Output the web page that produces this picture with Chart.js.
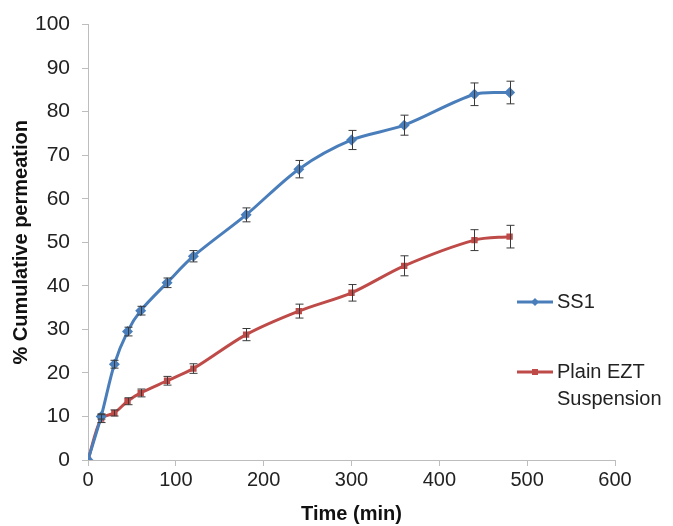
<!DOCTYPE html>
<html>
<head>
<meta charset="utf-8">
<script src="https://cdn.jsdelivr.net/npm/chart.js@4"></script>
<style>
    html, body { margin: 0; padding: 0; background: #fff; }
    #wrap { width: 673px; height: 526px; }
</style>
</head>
<body>
<div id="wrap"><canvas id="grafic" width="673" height="526"></canvas></div>
<script>
"use strict";

// values
const times = [0, 15, 30, 45, 60, 90, 120, 180, 240, 300, 360, 440, 480];
const ss1 = [0, 10, 22, 29.5, 34.3, 40.7, 46.8, 56.3, 66.8, 73.5, 76.9, 84, 84.4];
const ss1Err = [0, 0.6, 0.9, 1, 1, 1.1, 1.3, 1.6, 2, 2.2, 2.3, 2.6, 2.6];
const plain = [0, 9.5, 10.8, 13.5, 15.4, 18.2, 21, 28.8, 34.2, 38.4, 44.6, 50.5, 51.3];
const plainErr = [0, 0.9, 0.7, 0.8, 0.9, 1, 1.1, 1.4, 1.6, 1.9, 2.3, 2.4, 2.6];
const yTicks = [0, 10, 20, 30, 40, 50, 60, 70, 80, 90, 100];
const xTicks = [0, 100, 200, 300, 400, 500, 600];

const blue = '#4a7ebb';
const red = '#be4b48';
const font = 'Liberation Sans, Arial, sans-serif';

function points(ys) {
    return times.map(function (t, i) { return { x: t, y: ys[i] }; });
}

const errorBars = {
    id: 'errorBars',
    afterDatasetsDraw: function (chart) {
        let ctx = chart.ctx;
        let yScale = chart.scales.y;
        let errs = [ss1Err, plainErr];
        ctx.save();
        ctx.strokeStyle = '#3a3a3a';
        ctx.lineWidth = 1;
        chart.data.datasets.forEach(function (ds, d) {
            let meta = chart.getDatasetMeta(d);
            meta.data.forEach(function (pt, i) {
                let e = errs[d][i];
                if (!e) return;
                let v = ds.data[i].y;
                let x = Math.round(pt.x) + 0.5;
                let top = yScale.getPixelForValue(v + e);
                let bot = yScale.getPixelForValue(v - e);
                ctx.beginPath();
                ctx.moveTo(x, top); ctx.lineTo(x, bot);
                ctx.moveTo(x - 4, top); ctx.lineTo(x + 4, top);
                ctx.moveTo(x - 4, bot); ctx.lineTo(x + 4, bot);
                ctx.stroke();
            });
        });
        ctx.restore();
    }
};

const sideLegend = {
    id: 'sideLegend',
    afterDraw: function (chart) {
        let ctx = chart.ctx;
        let items = [
            { color: blue, shape: 'diamond', lines: ['SS1'], y: 302 },
            { color: red, shape: 'square', lines: ['Plain EZT', 'Suspension'], y: 372 }
        ];
        ctx.save();
        items.forEach(function (it) {
            ctx.strokeStyle = it.color;
            ctx.lineWidth = 3;
            ctx.beginPath();
            ctx.moveTo(517, it.y); ctx.lineTo(553, it.y);
            ctx.stroke();
            ctx.fillStyle = it.color;
            ctx.beginPath();
            if (it.shape === 'diamond') {
                ctx.moveTo(535, it.y - 4); ctx.lineTo(539, it.y);
                ctx.lineTo(535, it.y + 4); ctx.lineTo(531, it.y);
            } else {
                ctx.rect(532, it.y - 3, 6, 6);
            }
            ctx.fill();
            ctx.fillStyle = '#222';
            ctx.font = '20px ' + font;
            ctx.textBaseline = 'middle';
            ctx.textAlign = 'left';
            it.lines.forEach(function (txt, k) {
                ctx.fillText(txt, 557, it.y + k * 27);
            });
        });
        ctx.restore();
    }
};

function main() {
    new Chart(document.getElementById('grafic'), {
        type: 'line',
        data: {
            datasets: [
                {
                    label: 'SS1',
                    data: points(ss1),
                    borderColor: blue,
                    backgroundColor: blue,
                    borderWidth: 3,
                    tension: 0.3,
                    pointStyle: 'rectRot',
                    pointRadius: 5.5,
                    pointBorderWidth: 0
                },
                {
                    label: 'Plain EZT Suspension',
                    data: points(plain),
                    borderColor: red,
                    backgroundColor: red,
                    borderWidth: 3,
                    tension: 0.3,
                    pointStyle: 'rect',
                    pointRadius: 4.5,
                    pointBorderWidth: 0
                }
            ]
        },
        options: {
            responsive: false,
            animation: false,
            layout: { padding: { top: 14, right: 58, left: 9, bottom: 0 } },
            plugins: {
                legend: { display: false },
                tooltip: { enabled: false }
            },
            scales: {
                x: {
                    type: 'linear',
                    min: 0,
                    max: 600,
                    afterBuildTicks: function (axis) {
                        axis.ticks = xTicks.map(function (v) { return { value: v }; });
                    },
                    afterFit: function (axis) { axis.height = 66; },
                    grid: { drawOnChartArea: false, drawTicks: true, tickLength: 6, color: '#bdbdbd' },
                    border: { color: '#bdbdbd', width: 1 },
                    ticks: { color: '#222', font: { family: font, size: 20 }, padding: 2, maxRotation: 0 },
                    title: {
                        display: true,
                        text: 'Time (min)',
                        color: '#111',
                        font: { family: font, size: 20, weight: 'bold' },
                        padding: { top: 0, bottom: 0 }
                    }
                },
                y: {
                    min: 0,
                    max: 100,
                    afterBuildTicks: function (axis) {
                        axis.ticks = yTicks.map(function (v) { return { value: v }; });
                    },
                    afterFit: function (axis) { axis.width = 79; },
                    grid: { drawOnChartArea: false, drawTicks: true, tickLength: 6, color: '#bdbdbd' },
                    border: { color: '#bdbdbd', width: 1 },
                    ticks: { color: '#222', font: { family: font, size: 21 }, padding: 12 },
                    title: {
                        display: true,
                        text: '% Cumulative permeation',
                        color: '#111',
                        font: { family: font, size: 20, weight: 'bold' },
                        padding: { top: 0, bottom: 0 }
                    }
                }
            }
        },
        plugins: [errorBars, sideLegend]
    });
}

document.addEventListener('DOMContentLoaded', main);
</script>
</body>
</html>
